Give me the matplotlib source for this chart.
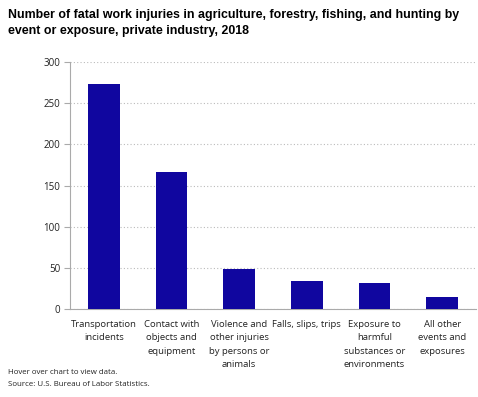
import matplotlib
matplotlib.use('Agg')
import matplotlib.pyplot as plt
import numpy as np

categories = ['Transportation\nincidents', 'Contact with\nobjects and\nequipment',
              'Violence and\nother injuries\nby persons or\nanimals', 'Falls, slips, trips',
              'Exposure to\nharmful\nsubstances or\nenvironments', 'All other\nevents and\nexposures']
values = [273, 166, 49, 34, 32, 14]
yticks = [0, 50, 100, 150, 200, 250, 300]

fig = plt.figure(figsize=(4.78, 3.97), dpi=100)
ax = fig.add_axes([70/478, 1-309/397, 406/478, 247/397])

x = np.arange(len(values))
ax.bar(x, values, width=0.47, color='#10069f', zorder=3)
ax.set_xlim(-0.5, len(values)-0.5)
ax.set_ylim(0, 300)
ax.set_yticks(yticks)
ax.set_xticks(x)
ax.set_xticklabels(categories, fontsize=6.8, family='Open Sans', color='#222222', linespacing=1.6, va='top')
for t in ax.get_yticklabels():
    t.set_fontsize(7); t.set_family('Open Sans'); t.set_color('#222222')
ax.tick_params(axis='x', length=0, pad=8)
ax.tick_params(axis='y', length=4, color='#aaaaaa', pad=3)
ax.yaxis.grid(True, linestyle=(0, (1, 2)), color='#bbbbbb', linewidth=0.8, zorder=0)
for s in ['top', 'right']:
    ax.spines[s].set_visible(False)
ax.spines['left'].set_color('#aaaaaa')
ax.spines['bottom'].set_color('#aaaaaa')

fig.text(8/478, 1-23/397, 'Number of fatal work injuries in agriculture, forestry, fishing, and hunting by\nevent or exposure, private industry, 2018',
         fontsize=8.9, fontweight='bold', family='Liberation Sans', va='center', ha='left', linespacing=1.35)
fig.text(8/478, 1-373/397, 'Hover over chart to view data.', fontsize=5.7, family='Open Sans', color='#222222', va='center')
fig.text(8/478, 1-385/397, 'Source: U.S. Bureau of Labor Statistics.', fontsize=5.7, family='Open Sans', color='#222222', va='center')

fig.savefig('out.png', dpi=100)
